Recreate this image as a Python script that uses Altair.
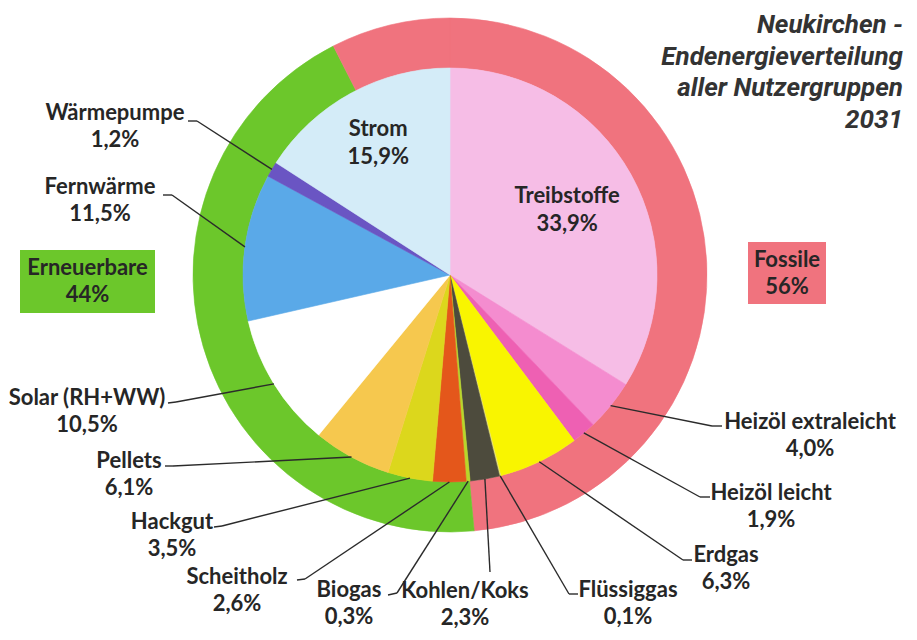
import math
import altair as alt
import pandas as pd

# ---------------- data ----------------
categories = ["Treibstoffe", "Heizöl extraleicht", "Heizöl leicht", "Erdgas", "Flüssiggas",
              "Kohlen/Koks", "Biogas", "Scheitholz", "Hackgut", "Pellets", "Solar (RH+WW)",
              "Fernwärme", "Wärmepumpe", "Strom"]
shares = [33.9, 4.0, 1.9, 6.3, 0.1, 2.3, 0.3, 2.6, 3.5, 6.1, 10.5, 11.5, 1.2, 15.9]
n_fossil = 6  # first six categories are fossil
group_names = ["Fossile", "Erneuerbare"]
group_shares = [56, 44]
title_lines = ["Neukirchen -", "Endenergieverteilung", "aller Nutzergruppen", "2031"]

# ---------------- styles ----------------
slice_colors = ["#f6bde6", "#f48ccf", "#ee60b3", "#f9f500", "#e6e070", "#4d4b3d", "#b9d62a",
                "#e4571b", "#dcd71c", "#f6c84e", "#ffffff", "#5aa9e8", "#6a55c3", "#d4ecf8"]
group_colors = {"Fossile": "#f0737e", "Erneuerbare": "#6cc72b"}
TEXT = "#262626"
FONT = "Lato"
FS = 22

# ---------------- layout (page px) ----------------
W, H, M = 901, 624, 8
CX, CY = 450 - M, 275 - M
R_PIE, R_RING = 207, 257

# outer labels: name centre, elbow of leader line, end of small tick
outer_layout = {
    "Heizöl extraleicht": ((810, 422), (712, 426), (722, 426)),
    "Heizöl leicht": ((771, 493), (700, 497), (710, 497)),
    "Erdgas": ((726, 555), (683, 560), (692, 560)),
    "Flüssiggas": ((628, 590), (569, 594), (578, 594)),
    "Kohlen/Koks": ((465, 591), (490, 572), (490, 572)),
    "Biogas": ((349, 590), (397, 593), (388, 595)),
    "Scheitholz": ((237, 577), (305, 579), (297, 580)),
    "Hackgut": ((172, 522), (222, 526), (214, 527)),
    "Pellets": ((129, 461), (173, 466), (165, 466)),
    "Solar (RH+WW)": ((87, 398), (176, 402), (168, 403)),
    "Fernwärme": ((100, 187), (172, 195), (163, 195)),
    "Wärmepumpe": ((115, 113), (197, 121), (188, 121)),
}
LINE_GAP = 27
inner_radius_for_label = {"Treibstoffe": 134, "Strom": 150}
boxes = [("Erneuerbare", 44, (20, 250, 155, 313)), ("Fossile", 56, (748, 242, 826, 304))]


def fmt(v):
    return f"{v:.1f}".replace(".", ",") + "%"


total = sum(shares)
mids, cum = [], 0.0
for v in shares:
    mids.append((cum + v / 2) / total * 2 * math.pi)
    cum += v


def polar(a, r):
    return CX + r * math.sin(a), CY - r * math.cos(a)


pie_df = pd.DataFrame({"cat": categories, "share": shares, "color": slice_colors,
                       "idx": list(range(len(categories)))})

fossil_inner = round(sum(shares[:n_fossil]), 1)
ring_df = pd.DataFrame({
    "grp": ["Fossile", "Erneuerbare", "Fossile"],
    "share": [fossil_inner, group_shares[1], round(group_shares[0] - fossil_inner, 1)],
    "idx": [0, 1, 2],
})
ring_df["color"] = ring_df["grp"].map(group_colors)

pie = alt.Chart(pie_df).mark_arc(outerRadius=R_PIE, strokeWidth=0.6).encode(
    theta=alt.Theta("share:Q", stack=True),
    color=alt.Color("color:N", scale=None),
    stroke=alt.Stroke("color:N", scale=None),
    order=alt.Order("idx:Q"),
    x=alt.value(CX), y=alt.value(CY),
)
ring = alt.Chart(ring_df).mark_arc(innerRadius=R_PIE, outerRadius=R_RING, strokeWidth=0.6).encode(
    theta=alt.Theta("share:Q", stack=True),
    color=alt.Color("color:N", scale=None),
    stroke=alt.Stroke("color:N", scale=None),
    order=alt.Order("idx:Q"),
    x=alt.value(CX), y=alt.value(CY),
)

# leader lines and labels
segs, labels = [], []
for i, cat in enumerate(categories):
    if cat in outer_layout:
        (tx, ty), (ex, ey), (kx, ky) = outer_layout[cat]
        px, py = polar(mids[i], R_PIE)
        segs.append({"x": px, "y": py, "x2": ex - M, "y2": ey - M})
        if (kx, ky) != (ex, ey):
            segs.append({"x": ex - M, "y": ey - M, "x2": kx - M, "y2": ky - M})
        labels.append({"x": tx - M, "y": ty - M, "t": cat})
        labels.append({"x": tx - M, "y": ty - M + LINE_GAP, "t": fmt(shares[i])})
    else:
        lx, ly = polar(mids[i], inner_radius_for_label[cat])
        labels.append({"x": lx, "y": ly - 14, "t": cat})
        labels.append({"x": lx, "y": ly + 14, "t": fmt(shares[i])})

seg_df = pd.DataFrame(segs)
lines = alt.Chart(seg_df).mark_rule(color="#2b2b2b", strokeWidth=1.4).encode(
    x=alt.X("x:Q", scale=None), y=alt.Y("y:Q", scale=None),
    x2="x2:Q", y2="y2:Q",
)

lab_df = pd.DataFrame(labels)
label_text = alt.Chart(lab_df).mark_text(font=FONT, fontSize=FS, fontWeight="bold", color=TEXT,
                                         align="center", baseline="middle").encode(
    x=alt.X("x:Q", scale=None), y=alt.Y("y:Q", scale=None), text="t:N",
)

box_rows, box_text = [], []
for name, val, (x0, y0, x1, y1) in boxes:
    box_rows.append({"x": x0 - M, "y": y0 - M, "x2": x1 - M, "y2": y1 - M, "c": group_colors[name]})
    cx_ = (x0 + x1) / 2 - M
    box_text.append({"x": cx_, "y": y0 - M + 18, "t": name})
    box_text.append({"x": cx_, "y": y0 - M + 45, "t": f"{val}%"})
box_df = pd.DataFrame(box_rows)
box_marks = alt.Chart(box_df).mark_rect().encode(
    x=alt.X("x:Q", scale=None), y=alt.Y("y:Q", scale=None), x2="x2:Q", y2="y2:Q",
    color=alt.Color("c:N", scale=None),
)
box_labels = alt.Chart(pd.DataFrame(box_text)).mark_text(
    font=FONT, fontSize=FS, fontWeight="bold", color=TEXT, align="center", baseline="middle"
).encode(x=alt.X("x:Q", scale=None), y=alt.Y("y:Q", scale=None), text="t:N")

title_df = pd.DataFrame({"t": title_lines, "y": [25 - M + 31.5 * k for k in range(4)],
                         "x": [903 - M] * 4})
title = alt.Chart(title_df).mark_text(font="Roboto", fontSize=26, fontWeight="bold",
                                      fontStyle="italic", color="#333333", align="right",
                                      baseline="middle").encode(
    x=alt.X("x:Q", scale=None), y=alt.Y("y:Q", scale=None), text="t:N",
)

chart = alt.layer(ring, pie, lines, box_marks, box_labels, label_text, title).resolve_scale(
    theta="independent"
).properties(
    width=W, height=H, padding=0, autosize=alt.AutoSizeParams(type="none"),
    background="white",
).configure_view(stroke=None)

chart.save("out.html", embed_options={"renderer": "svg", "actions": False})
